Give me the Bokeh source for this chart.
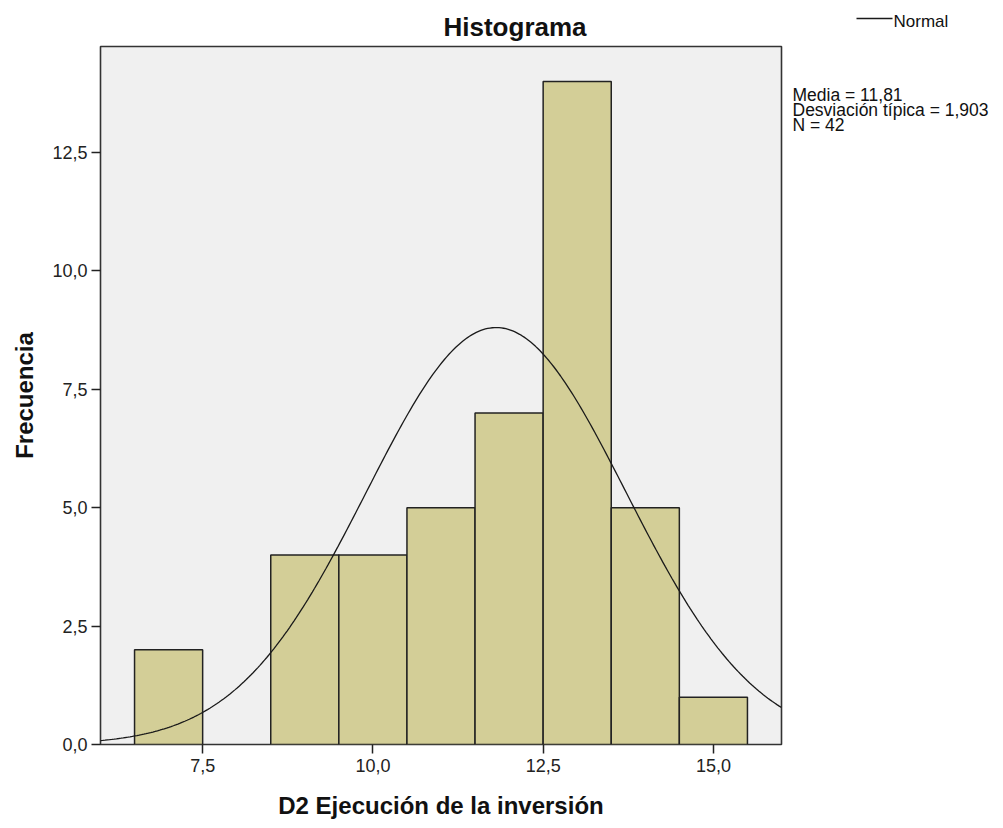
from bokeh.plotting import figure
from bokeh.models import Range1d, FixedTicker, Title
from bokeh.layouts import row, column
from bokeh.core.properties import value
from bokeh.embed import file_html
from bokeh.resources import INLINE
import numpy as np

# ---- data ----
bin_centers = [7, 9, 10, 11, 12, 13, 14, 15]
counts = [2, 4, 4, 5, 7, 14, 5, 1]
bin_width = 1.0
mean_val = 11.81
std_val = 1.903
n_val = 42
x_ticks = [7.5, 10.0, 12.5, 15.0]
y_ticks = [0.0, 2.5, 5.0, 7.5, 10.0, 12.5]
stats_lines = ["Media = 11,81", "Desviación típica = 1,903", "N = 42"]
legend_label = "Normal"
title_text = "Histograma"

FONT = "Liberation Sans"
X0, X1 = 6.0, 16.0
Y0, Y1 = 0.0, 14.74
FW, FH = 681, 698
BL, BT, BR, BB = 100, 46, 5, 81
PW = BL + FW + BR
PH = BT + FH + BB

p = figure(width=PW, height=PH, frame_width=FW, frame_height=FH,
           x_range=Range1d(X0, X1), y_range=Range1d(Y0, Y1),
           output_backend="svg", toolbar_location=None,
           min_border_left=BL, min_border_top=BT, min_border_right=BR,
           min_border_bottom=BB)

p.title = Title(text=title_text, align="left", offset=443 - BL,
                text_font=FONT, text_font_style="bold", text_font_size="26px",
                text_color="#111111", standoff=10)

p.background_fill_color = "#f0f0f0"
p.border_fill_color = "white"
p.outline_line_color = "#333333"
p.outline_line_width = 1.6
p.xgrid.visible = False
p.ygrid.visible = False

left = [c - bin_width / 2 for c in bin_centers]
right = [c + bin_width / 2 for c in bin_centers]
p.quad(left=left, right=right, bottom=0, top=counts,
       fill_color="#d3ce97", line_color="#222222", line_width=1.5)

# normal curve defined by the reported statistics
xs = np.linspace(X0, X1, 300)
ys = n_val * bin_width * np.exp(-0.5 * ((xs - mean_val) / std_val) ** 2) / (std_val * np.sqrt(2 * np.pi))
p.line(xs, ys, line_color="#1a1a1a", line_width=1.3)

def fmt(v):
    return ("%.1f" % v).replace(".", ",")

for ax, ticks in ((p.xaxis, x_ticks), (p.yaxis, y_ticks)):
    ax.ticker = FixedTicker(ticks=ticks)
    ax.major_label_overrides = {t: fmt(t) for t in ticks}
    ax.minor_tick_line_color = None
    ax.major_tick_in = 0
    ax.major_tick_out = 9
    ax.major_tick_line_color = "#222222"
    ax.major_tick_line_width = 1.5
    ax.axis_line_color = None
    ax.major_label_text_font = FONT
    ax.major_label_text_font_size = "18px"
    ax.major_label_text_color = "#222222"
    ax.axis_label_text_font = FONT
    ax.axis_label_text_font_style = "bold"
    ax.axis_label_text_font_size = "24px"
    ax.axis_label_text_color = "#111111"

p.xaxis.axis_label = "D2 Ejecución de la inversión"
p.yaxis.axis_label = "Frecuencia"
p.xaxis.major_label_standoff = 5
p.xaxis.axis_label_standoff = 17
p.yaxis.major_label_standoff = 4
p.yaxis.axis_label_standoff = 11

# ---- side panel (page pixel coordinates) with legend key and statistics ----
SW = 210
q = figure(width=SW, height=PH, frame_width=SW, frame_height=PH,
           x_range=Range1d(PW, PW + SW), y_range=Range1d(PH, 0),
           output_backend="svg", toolbar_location=None, title=None,
           x_axis_type=None, y_axis_type=None, min_border=0)
q.outline_line_color = None
q.background_fill_color = "white"
q.border_fill_color = "white"
q.xgrid.visible = False
q.ygrid.visible = False

q.line([856, 892], [18, 18], line_color="#1a1a1a", line_width=1.3)
q.text(x=[893], y=[21], text=[legend_label], text_baseline="alphabetic",
       text_font=value(FONT), text_font_size="17px", text_color="#111111")
q.text(x=[792] * len(stats_lines), y=[94 + 15 * i for i in range(len(stats_lines))],
       text=stats_lines, text_baseline="alphabetic",
       text_font=value(FONT), text_font_size="17.5px", text_color="#111111")

open("out.html", "w").write(file_html(row(p, column(q)), INLINE))
